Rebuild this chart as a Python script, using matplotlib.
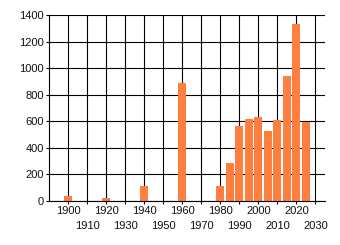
import matplotlib.pyplot as plt

years = [1900, 1920, 1940, 1960, 1980, 1985, 1990, 1995, 2000, 2005, 2010, 2015, 2020, 2025]
values = [38, 22, 113, 888, 113, 286, 565, 617, 632, 527, 610, 941, 1332, 597]
even_ticks = [1900, 1920, 1940, 1960, 1980, 2000, 2020]
odd_ticks = [1910, 1930, 1950, 1970, 1990, 2010, 2030]
y_ticks = [0, 200, 400, 600, 800, 1000, 1200, 1400]

plt.rcParams['font.family'] = ['Liberation Sans', 'DejaVu Sans']

fig = plt.figure(figsize=(3.4, 2.45), dpi=100)
ax = fig.add_axes([49 / 340, 44 / 245, 276 / 340, 186 / 245])

ax.bar(years, values, width=4.2, color='#FF7F40', zorder=3)

ax.set_xlim(1890, 2035)
ax.set_ylim(0, 1400)
ax.set_yticks(y_ticks)
ax.set_xticks(even_ticks)
ax.set_xticks(odd_ticks, minor=True)
ax.set_xticklabels([str(t) for t in even_ticks])
ax.set_xticklabels([str(t) for t in odd_ticks], minor=True)

ax.grid(True, which='both', color='black', linewidth=0.8, zorder=0)
ax.tick_params(axis='both', which='both', direction='out', length=2.2,
               width=0.8, color='black', labelsize=8, labelcolor='#111111')
ax.tick_params(axis='x', which='major', pad=1.5)
ax.tick_params(axis='x', which='minor', pad=12.5)
ax.tick_params(axis='y', pad=1.5)

for side in ['top', 'right']:
    ax.spines[side].set_visible(False)
for side in ['left', 'bottom']:
    ax.spines[side].set_linewidth(0.8)
    ax.spines[side].set_zorder(4)

fig.savefig('out.png', dpi=100)
